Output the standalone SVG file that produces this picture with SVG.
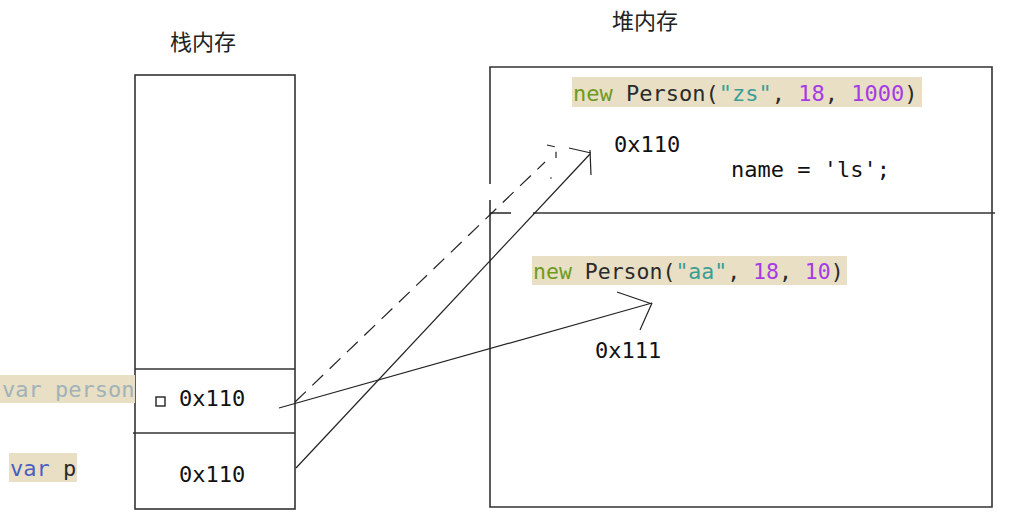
<svg xmlns="http://www.w3.org/2000/svg" width="1019" height="529" viewBox="0 0 1019 529">
<defs>
<style>
.box{fill:none;stroke:#333;stroke-width:1.6}
.ln{fill:none;stroke:#222;stroke-width:1.2}
.dash{fill:none;stroke:#222;stroke-width:1.2;stroke-dasharray:15 9}
.hl{fill:#e8dfc4}
.code{font-family:"DejaVu Sans Mono","Liberation Mono",monospace}
.cjk{font-family:"Noto Sans CJK SC","Noto Sans",sans-serif;font-size:22px;fill:#222}
.kw{fill:#6f9a22}
.df{fill:#2b2b2b}
.st{fill:#3a9e96}
.nm{fill:#a63be6}
.addr{font-family:"DejaVu Sans Mono","Liberation Mono",monospace;font-size:22px;fill:#111}
</style>
</defs>
<rect width="1019" height="529" fill="#fff"/>

<g id="stack-title"><text class="cjk" x="170" y="50">栈内存</text></g>
<g id="heap-title"><text class="cjk" x="612" y="29">堆内存</text></g>

<g id="stack">
<rect class="box" x="135" y="75" width="160" height="434"/>
<line class="box" x1="135" y1="369" x2="295" y2="369"/>
<line class="box" x1="133" y1="433" x2="295" y2="433"/>
</g>

<g id="stack-person">
<rect class="hl" x="0" y="375" width="135" height="28"/>
<text class="code" x="2" y="397" font-size="22" fill="#9fb3b8">var person</text>
<rect x="156" y="397" width="9" height="9" fill="none" stroke="#222" stroke-width="1.4"/>
<text class="addr" x="179" y="406">0x110</text>
</g>

<g id="stack-p">
<rect class="hl" x="9" y="453" width="68" height="29"/>
<text class="code" x="10" y="476" font-size="22"><tspan fill="#4a5fc1">var</tspan><tspan class="df"> p</tspan></text>
<text class="addr" x="179" y="482">0x110</text>
</g>

<g id="heap">
<path class="box" d="M490,184 V67 H992 V507 H490 V200"/>
<line class="box" x1="490" y1="213" x2="511" y2="213"/>
<line class="box" x1="533" y1="213" x2="995" y2="213"/>
</g>

<g id="heap-zs">
<rect class="hl" x="572" y="77" width="350" height="30"/>
<text class="code" x="573" y="101" font-size="22"><tspan class="kw">new</tspan><tspan class="df"> Person(</tspan><tspan class="st">"zs"</tspan><tspan class="df">, </tspan><tspan class="nm">18</tspan><tspan class="df">, </tspan><tspan class="nm">1000</tspan><tspan class="df">)</tspan></text>
<text class="addr" x="614" y="152">0x110</text>
<text class="code" x="731" y="177" font-size="22" fill="#111">name = 'ls';</text>
</g>

<g id="heap-aa">
<rect class="hl" x="532" y="256" width="315" height="29"/>
<text class="code" x="533" y="279" font-size="21.5"><tspan class="kw">new</tspan><tspan class="df"> Person(</tspan><tspan class="st">"aa"</tspan><tspan class="df">, </tspan><tspan class="nm">18</tspan><tspan class="df">, </tspan><tspan class="nm">10</tspan><tspan class="df">)</tspan></text>
<text class="addr" x="595" y="358" font-size="21.5">0x111</text>
</g>

<g id="connectors">
<line class="ln" x1="279" y1="408" x2="652" y2="303"/>
<path class="ln" d="M617,292 L652,304 M640,330 L652,303"/>
<line class="ln" x1="296" y1="468" x2="590" y2="154"/>
<path class="ln" d="M569,148 L591,153 M590,150 L591,175"/>
<line class="dash" x1="295" y1="402" x2="545" y2="162"/>
<path class="dash" d="M547,145 L556,147 L556,158" style="stroke-dasharray:8 6"/>
<circle cx="551" cy="178" r="0.8" fill="#222"/>
</g>
</svg>
